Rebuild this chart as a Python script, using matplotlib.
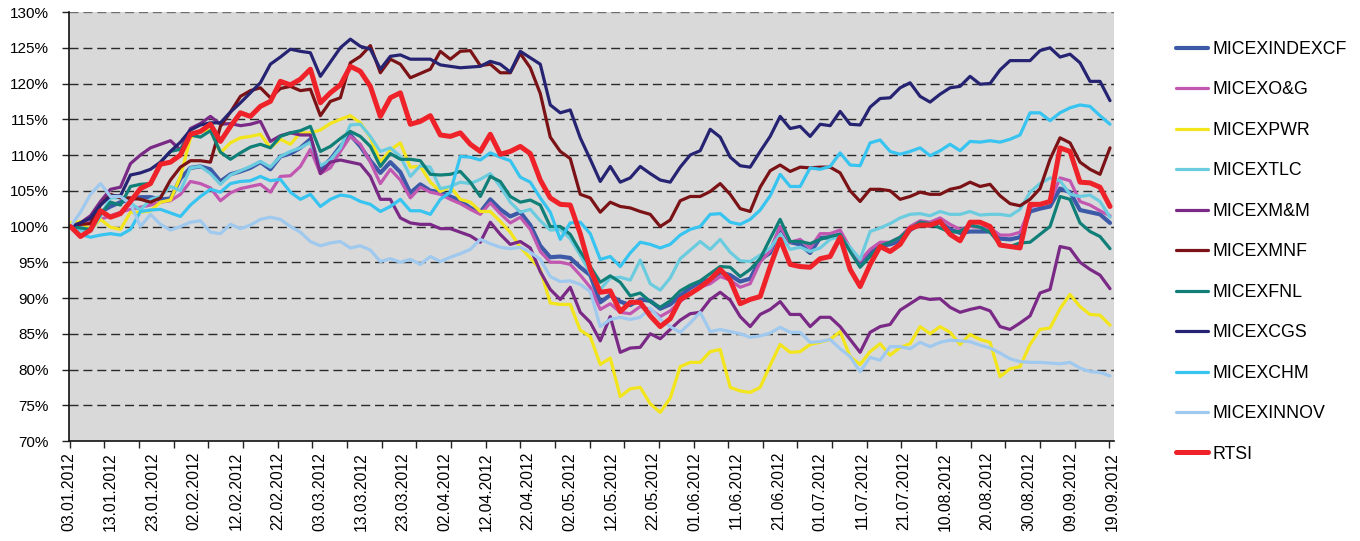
import numpy as np
import matplotlib
matplotlib.use("Agg")
import matplotlib.pyplot as plt

# ---- categories: calendar-day offsets from 03.01.2012 (sampled every 2.5 days) ----
day_offset = np.arange(0, 260.01, 2.5)

date_labels = ["03.01.2012", "13.01.2012", "23.01.2012", "02.02.2012", "12.02.2012",
               "22.02.2012", "03.03.2012", "13.03.2012", "23.03.2012", "02.04.2012",
               "12.04.2012", "22.04.2012", "02.05.2012", "12.05.2012", "22.05.2012",
               "01.06.2012", "11.06.2012", "21.06.2012", "01.07.2012", "11.07.2012",
               "21.07.2012", "10.08.2012", "20.08.2012", "30.08.2012", "09.09.2012",
               "19.09.2012"]

y_ticks = [70, 75, 80, 85, 90, 95, 100, 105, 110, 115, 120, 125, 130]

series_names = ["MICEXINDEXCF", "MICEXO&G", "MICEXPWR", "MICEXTLC", "MICEXM&M",
                "MICEXMNF", "MICEXFNL", "MICEXCGS", "MICEXCHM", "MICEXINNOV", "RTSI"]

micex_indexcf = [
    100, 100.4, 101.1, 102, 102.8, 103.4, 103.8, 104.1, 104.1, 103.8,
    103.9, 106.7, 108.2, 108.4, 108, 106.3, 107.3, 107.7, 108.2, 109,
    108, 109.8, 110.2, 111, 112.2, 108, 109.4, 111.2, 112.8, 111.2,
    109.2, 107.5, 109, 107.6, 104.7, 105.9, 105, 104.8, 104.2, 103.6,
    102.6, 102, 103.8, 102.4, 101.4, 102, 100.2, 97.3, 95.7, 95.8,
    95.6, 94.3, 93.2, 89.4, 90.4, 89.5, 89, 89.8, 89.6, 88.5,
    89.1, 90.3, 91.4, 92.2, 92.6, 93.6, 93.2, 92.3, 92.7, 95.4,
    96.3, 99.9, 97.8, 97.5, 96.3, 98.4, 98.5, 98.9, 96.8, 95,
    96.5, 97.3, 97.5, 98, 99.5, 100.4, 100.1, 100.6, 99.6, 99.1,
    99.3, 99.3, 99.3, 98.3, 98.2, 98.5, 102.1, 102.5, 102.8, 105.3,
    104.8, 102.3, 102, 101.7, 100.5]

micex_og = [
    100, 100.2, 100.6, 101, 101.5, 102, 102.4, 102.7, 103, 103.4,
    103.6, 104.5, 106.3, 106, 105.4, 103.6, 104.7, 105.3, 105.6, 105.9,
    104.8, 107, 107.1, 108.4, 110.8, 107.4, 108.2, 110.5, 112.6, 111.5,
    109, 106, 108, 106.5, 104, 105.5, 104.8, 104.5, 103.8, 103.2,
    102.4, 101.7, 103.3, 101.8, 100.5, 101.3, 99.6, 96.5, 95, 95,
    94.7, 93.2, 91.5, 88.4, 89.2, 88, 87.8, 88.8, 88.4, 87.4,
    88.2, 89.5, 90.6, 91.5, 92, 93, 92.5, 91.5, 92, 95,
    96.6, 100, 97.8, 98.2, 97, 99, 99, 99.5, 97, 95.2,
    96.8, 97.8, 97.8, 98.5, 100, 100.8, 100.6, 101.2, 100.3, 99.6,
    100, 99.9, 99.8, 98.8, 98.8, 99.2, 102.7, 103.1, 103.4, 106.8,
    106.4, 103.5, 103, 102.2, 101.5]

micex_pwr = [
    100.5, 100.7, 99.5, 101, 99.9, 99.6, 102, 102, 102.2, 103.4,
    103.7, 107, 112.4, 113.3, 113.5, 110.3, 111.7, 112.4, 112.6, 112.9,
    111, 112.2, 111.5, 113.1, 113.1, 113.5, 114.4, 115, 115.5, 114.5,
    112.4, 109, 110.7, 111.7, 108.3, 108.4, 106.2, 104.9, 105.6, 103.8,
    103.4, 102.1, 102.1, 100.7, 99.2, 97.1, 95.6, 94, 89.3, 89.1,
    89.1, 85.5, 84.6, 80.7, 81.6, 76.2, 77.3, 77.5, 75.2, 74,
    76, 80.4, 81, 81, 82.5, 82.8, 77.5, 77, 76.8, 77.5,
    80.6, 83.5, 82.4, 82.5, 83.5, 83.8, 84.2, 85.3, 81.8, 80.7,
    82.5, 83.6, 82, 83.1, 83.6, 86, 85, 86, 85.2, 83.5,
    84.9, 84.2, 83.8, 79, 80.1, 80.4, 83.5, 85.6, 85.8, 88.5,
    90.5, 88.8, 87.7, 87.6, 86.2]

micex_tlc = [
    100, 99.5, 99.3, 101.5, 104, 104, 103.3, 102.3, 103.8, 104.2,
    105.6, 105, 108.2, 108.4, 107.4, 105.9, 107.2, 107.8, 108.4, 109.1,
    108.3, 109.8, 110.5, 111, 111.8, 108.5, 109.3, 111, 114.2, 114.3,
    112.6, 110.5, 111, 109.8, 107, 108.5, 108.3, 105.3, 105.6, 106.2,
    106, 106.6, 107.4, 105.6, 103.4, 102, 102.4, 100.8, 99.5, 99.6,
    98.3, 96, 93.5, 91.2, 92.8, 92.9, 92.5, 95.3, 92, 91.1,
    92.8, 95.5, 96.7, 97.9, 96.8, 98.2, 96.4, 95.2, 95.1, 96,
    97, 98.9, 96.8, 97.1, 96.5, 97, 98.2, 98.6, 97.1, 95.4,
    99.3, 99.8, 100.4, 101.2, 101.7, 101.8, 101.5, 102.1, 101.7, 101.7,
    102.1, 101.6, 101.7, 101.7, 101.5, 102.4, 104.8, 106, 106.8, 106.4,
    104.5, 104.2, 104.4, 103.5, 101.3]

micex_mm = [
    100, 100.5, 101.5, 103.5, 105.2, 105.5, 108.8, 110, 111, 111.5,
    112, 110.7, 113.7, 114.4, 115.4, 114.3, 114.4, 114.1, 114.3, 114.7,
    111.9, 112.7, 113.1, 112.8, 112.8, 107.4, 109, 109.3, 109, 108.7,
    107, 103.8, 103.8, 101.2, 100.5, 100.3, 100.3, 99.7, 99.7, 99.2,
    98.7, 97.8, 100.6, 98.9, 97.5, 97.9, 97, 93.7, 91.2, 89.8,
    91.5, 88, 86.6, 84, 87.4, 82.4, 83, 83.1, 85, 84.3,
    85.6, 86.9, 87.8, 88, 89.8, 90.8, 89.7, 87.4, 86, 87.7,
    88.4, 89.5, 87.7, 87.7, 86, 87.3, 87.3, 86, 84.2, 82.4,
    85.2, 86, 86.3, 88.3, 89.2, 90.1, 89.8, 89.9, 88.7, 88,
    88.4, 88.7, 88.2, 86, 85.6, 86.5, 87.5, 90.7, 91.2, 97.2,
    96.9, 95, 94, 93.2, 91.3]

micex_mnf = [
    100, 100.3, 100.4, 103, 104.5, 104, 104, 103.8, 103.4, 104,
    106.5, 108.3, 109.2, 109.2, 109, 114, 116, 118.2, 119, 119.4,
    118, 119.3, 119.6, 119, 119.2, 115.5, 117.5, 118, 122.9, 123.8,
    125.3, 121.5, 123.4, 122.7, 120.8, 121.4, 122, 124.5, 123.4, 124.5,
    124.6, 122.5, 122.7, 121.5, 121.5, 124.2, 122.2, 118.6, 112.5, 110.5,
    109.5, 104.5, 104, 102, 103.4, 102.8, 102.6, 102.1, 101.7, 100,
    100.9, 103.6, 104.2, 104.2, 104.9, 106, 104.5, 102.5, 102.1, 105.5,
    107.8, 108.6, 107.7, 108.3, 108.2, 108.3, 108.3, 107.5, 105, 103.5,
    105.2, 105.2, 105, 103.8, 104.2, 104.8, 104.5, 104.5, 105.2, 105.5,
    106.2, 105.6, 105.9, 104.3, 103.2, 102.9, 103.8, 105.3, 109.4, 112.4,
    111.7, 109, 108, 107.3, 111]

micex_fnl = [
    100, 99.8, 99.6, 101.7, 103.4, 103, 105.6, 105.9, 106, 109,
    110.5, 110.8, 112.8, 112.5, 113.4, 110.4, 109.4, 110.3, 111.1, 111.5,
    111, 112.6, 113.1, 113.4, 114, 110.5, 111.2, 112.3, 113.3, 112.6,
    111.2, 108.4, 110.2, 109.4, 109.4, 109.2, 107.3, 107.2, 107.3, 107.7,
    106.2, 104.2, 107, 106.3, 104.2, 103.4, 103.7, 103, 100, 100,
    98.9, 96.5, 94.4, 92.2, 93.1, 92.2, 90.3, 90.7, 89.5, 88.7,
    89.6, 91, 91.8, 92.4, 93.4, 94.4, 94.3, 93, 94, 95.5,
    98.3, 101, 97.9, 97.9, 97.6, 98.2, 98.6, 98.9, 96.5, 94.3,
    95.8, 97.3, 97.8, 98.5, 99.7, 100.6, 100.4, 99.8, 99.2, 99.3,
    100.2, 99.9, 99.2, 97.5, 97.2, 97.7, 97.8, 98.9, 100, 104.2,
    103.8, 100.5, 99.3, 98.6, 96.9]

micex_cgs = [
    100, 100.5, 101.2, 103, 104.3, 104.3, 107.2, 107.5, 108, 109,
    110.5, 111.8, 113.5, 114.2, 114.5, 114.5, 116, 117.3, 118.7, 120.1,
    122.7, 123.7, 124.8, 124.5, 124.3, 121, 123, 125, 126.2, 125.2,
    124.8, 122, 123.8, 124, 123.4, 123.4, 123.4, 122.6, 122.4, 122.2,
    122.3, 122.4, 123.1, 122.7, 121.6, 124.5, 123.6, 122.7, 117, 115.9,
    116.3, 112.4, 109.4, 106.3, 108.4, 106.2, 106.8, 108.4, 107.4, 106.5,
    106.2, 108.3, 110, 110.6, 113.6, 112.5, 109.7, 108.5, 108.3, 110.5,
    112.6, 115.4, 113.7, 114, 112.6, 114.3, 114.1, 116.1, 114.3, 114.2,
    116.7, 117.9, 118, 119.4, 120.1, 118.2, 117.4, 118.5, 119.4, 119.6,
    121, 119.9, 120, 121.9, 123.2, 123.2, 123.2, 124.6, 125, 123.7,
    124.1, 122.9, 120.3, 120.3, 117.6]

micex_chm = [
    100, 98.9, 98.5, 98.8, 99, 98.8, 99.6, 102.1, 102.3, 102.4,
    101.9, 101.4, 103, 104.2, 105.2, 104.8, 106, 106.3, 106.4, 107,
    106.4, 106.6, 104.8, 103.8, 104.5, 102.8, 103.8, 104.4, 104.2, 103.5,
    103.1, 102.1, 102.8, 103.8, 102.2, 102.2, 101.7, 103.8, 104.8, 109.8,
    109.7, 109.3, 110.3, 109.7, 109.2, 106.9, 106.2, 104, 102, 98.2,
    100.5, 100.6, 99, 95.4, 95.8, 94.4, 96.3, 97.8, 97.5, 97,
    97.5, 98.8, 99.6, 100, 101.7, 101.8, 100.6, 100.3, 101, 102.3,
    104.3, 107.3, 105.6, 105.6, 108.2, 108, 108.4, 110.3, 108.6, 108.5,
    111.7, 112.1, 110.5, 110.1, 110.5, 111, 109.9, 110.6, 111.5, 110.6,
    111.9, 111.8, 112, 111.8, 112.2, 112.8, 115.9, 115.9, 114.8, 115.9,
    116.6, 117, 116.8, 115.5, 114.3]

micex_innov = [
    100, 102, 104.5, 106, 104.2, 104.2, 103.2, 100, 101.7, 100.3,
    99.5, 100, 100.6, 100.8, 99.2, 99, 100.3, 99.7, 100.2, 101,
    101.3, 101, 100, 99.2, 97.9, 97.3, 97.7, 97.9, 97, 97.3,
    96.7, 95.1, 95.5, 95, 95.4, 94.7, 95.8, 95.1, 95.7, 96.2,
    96.8, 98.2, 97.6, 97.1, 96.9, 97.1, 96.4, 95.4, 93, 92.3,
    92.4, 91.9, 90.9, 86, 87, 87.3, 87, 87.3, 88.6, 87,
    86, 85.2, 86.5, 88, 85.3, 85.6, 85.3, 85, 84.5, 84.7,
    85.1, 85.9, 85.2, 85.2, 83.8, 83.9, 84.2, 82.9, 81.8, 79.7,
    81.7, 81.3, 83.2, 83.2, 82.9, 83.8, 83.2, 83.8, 84.1, 84,
    83.9, 83.4, 83, 82.3, 81.5, 81.1, 81, 81, 80.9, 80.8,
    81, 80.2, 79.7, 79.6, 79.1]

rtsi = [
    100, 98.6, 99.5, 102.2, 101.3, 101.8, 103.5, 105.3, 106, 108.7,
    109, 110, 112.9, 113.3, 114.3, 111.9, 114, 115.9, 115.4, 116.8,
    117.5, 120.3, 119.8, 120.6, 122, 117.3, 118.7, 119.8, 122.4, 121.7,
    119.6, 115.4, 118, 118.7, 114.3, 114.7, 115.5, 112.8, 112.6, 113.1,
    111.5, 110.5, 112.9, 110.1, 110.5, 111.2, 110.2, 106.5, 104, 103.1,
    103, 99, 94, 90.8, 91, 88.1, 89.4, 89.4, 87.5, 86,
    87.1, 89.8, 90.6, 91.5, 92.6, 94, 92.5, 89.2, 89.8, 90.2,
    94.4, 98.2, 94.7, 94.4, 94.3, 95.5, 95.8, 98.5, 94, 91.6,
    94.7, 97.2, 96.5, 97.5, 99.7, 100.2, 100.2, 100.7, 98.9, 98,
    100.6, 100.6, 100, 97.4, 97.2, 97, 103.1, 103.1, 103.5, 111,
    110.5, 106.2, 106.1, 105.5, 102.8]

series_values = [micex_indexcf, micex_og, micex_pwr, micex_tlc, micex_mm,
                 micex_mnf, micex_fnl, micex_cgs, micex_chm, micex_innov, rtsi]

colors = ["#3D5AA8", "#C257B2", "#F3E51B", "#6CCCDF", "#7A2A86",
          "#7A1216", "#0F7F78", "#262472", "#37C4F0", "#9FC9EE", "#EE2228"]
widths = [3.0, 2.3, 2.3, 2.3, 2.3, 2.3, 2.3, 2.3, 2.3, 2.3, 3.6]

plt.rcParams['font.family'] = ['Liberation Sans', 'DejaVu Sans']

W, H = 1360, 541
fig = plt.figure(figsize=(W / 100, H / 100), dpi=100)
x0, x1, ytop, ybot = 69, 1114, 12, 441
ax = fig.add_axes([x0 / W, 1 - ybot / H, (x1 - x0) / W, (ybot - ytop) / H])
ax.set_facecolor("#D9D9D9")

# pixel -> day conversion (4 px per day, 03.01 at px 70)
def px2day(px):
    return (px - 70) / 4.0

for name, vals, c, lw in zip(series_names, series_values, colors, widths):
    ax.plot(day_offset, vals, color=c, lw=lw, label=name,
            solid_joinstyle='round', solid_capstyle='round', zorder=3)

ax.set_xlim(px2day(x0), px2day(x1))
ax.set_ylim(70, 130)

# gridlines
for v in y_ticks[1:]:
    ax.axhline(v, color="#6e6e6e" if v == 130 else "#2a2a2a", lw=1.0,
               dashes=(6.5, 3.5), zorder=1)

ax.set_yticks(y_ticks)
ax.set_yticklabels([f"{v}%" for v in y_ticks], fontsize=11)
ax.tick_params(axis='y', direction='out', length=5, width=1, color='#222222', pad=9.5)

tick_pos = [px2day(69.3 + 34.667 * k) for k in range(31)]
ax.set_xticks(tick_pos)
ax.set_xticklabels([''] * len(tick_pos))
ax.tick_params(axis='x', which='major', direction='out', length=5, width=1, color='#222222')
label_pos = [px2day(68.5 + 41.75 * k) for k in range(len(date_labels))]
ax.set_xticks(label_pos, minor=True)
ax.set_xticklabels(date_labels, minor=True, rotation=90, fontsize=11.3)
ax.tick_params(axis='x', which='minor', length=0, pad=8)

for s in ['top', 'right']:
    ax.spines[s].set_visible(False)
for s in ['left', 'bottom']:
    ax.spines[s].set_color('#111111')
    ax.spines[s].set_linewidth(1.2)
    ax.spines[s].set_zorder(4)

leg = fig.legend(loc='upper left', bbox_to_anchor=(1176 / W, 1 - 41 / H),
                 frameon=False, fontsize=12.8, handlelength=1.8,
                 handletextpad=0.25, labelspacing=1.32, borderpad=0, borderaxespad=0)

fig.savefig("out.png", dpi=100)
